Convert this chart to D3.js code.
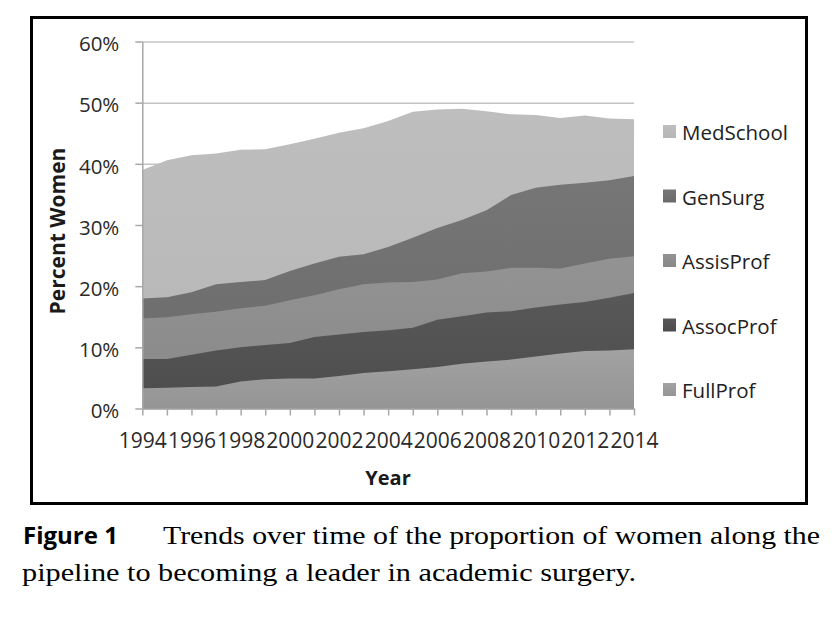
<!DOCTYPE html>
<html lang="en">
<head>
<meta charset="UTF-8">
<title>Women in academic surgery</title>
<style>
    body { margin:0; background:#fff; }
    svg text { font-family: "Open Sans", "DejaVu Sans", sans-serif; }
    svg text.serif { font-family: "Liberation Serif", "Times New Roman", serif; }
</style>
</head>
<body>
<script src="https://d3js.org/d3.v7.min.js"></script>
<script>
    var years = d3.range(1994, 2015);
    var yTicks = [0, 10, 20, 30, 40, 50, 60];

    // percent women
    var medSchool = [39.0, 40.6, 41.4, 41.7, 42.3, 42.4, 43.2, 44.1, 45.1, 45.8, 47.0,
                     48.5, 48.9, 49.0, 48.6, 48.1, 48.0, 47.5, 47.9, 47.4, 47.3];
    var genSurg   = [18.0, 18.2, 19.0, 20.3, 20.7, 21.0, 22.5, 23.7, 24.8, 25.2, 26.4,
                     27.9, 29.5, 30.8, 32.4, 34.9, 36.1, 36.6, 36.9, 37.3, 38.0];
    var assisProf = [14.7, 14.9, 15.4, 15.8, 16.4, 16.8, 17.7, 18.5, 19.5, 20.3, 20.6,
                     20.7, 21.1, 22.1, 22.4, 23.0, 23.0, 22.9, 23.7, 24.5, 24.9];
    var assocProf = [8.1, 8.1, 8.8, 9.5, 10.0, 10.4, 10.7, 11.7, 12.1, 12.5, 12.8,
                     13.2, 14.5, 15.1, 15.7, 15.9, 16.5, 17.0, 17.4, 18.1, 18.9];
    var fullProf  = [3.3, 3.4, 3.5, 3.6, 4.4, 4.8, 4.9, 4.9, 5.3, 5.8, 6.1,
                     6.4, 6.8, 7.3, 7.7, 8.0, 8.5, 9.0, 9.4, 9.5, 9.7];

    var seriesNames = ['MedSchool', 'GenSurg', 'AssisProf', 'AssocProf', 'FullProf'];
    var seriesValues = [medSchool, genSurg, assisProf, assocProf, fullProf];
    var colors = [['#bebebe', '#b6b6b6'], ['#767676', '#6a6a6a'], ['#939393', '#888888'],
                  ['#585858', '#4c4c4c'], ['#a2a2a2', '#959595']];

    var width = 839, height = 623;
    var plotL = 142.3, plotR = 634, plotT = 41.5, plotB = 408.5;

    var svg = d3.select('body').append('svg')
        .attr('width', width)
        .attr('height', height);

    svg.append('rect').attr('width', width).attr('height', height).attr('fill', '#fff');

    var defs = svg.append('defs');
    colors.forEach(function(c, i) {
        var g = defs.append('linearGradient')
            .attr('id', 'grad' + i)
            .attr('x1', 0).attr('y1', 0).attr('x2', 0).attr('y2', 1);
        g.append('stop').attr('offset', '0%').attr('stop-color', c[0]);
        g.append('stop').attr('offset', '100%').attr('stop-color', c[1]);
    });

    // frame
    svg.append('rect')
        .attr('x', 31.5).attr('y', 17.5)
        .attr('width', 775).attr('height', 486)
        .attr('fill', 'none').attr('stroke', '#000').attr('stroke-width', 3);

    var x = d3.scaleLinear().domain([1994, 2014]).range([plotL, plotR]);
    var y = d3.scaleLinear().domain([0, 60]).range([plotB, plotT]);

    // gridlines
    svg.append('g')
        .attr('class', 'grid')
        .attr('transform', 'translate(' + plotL + ',0)')
        .call(d3.axisLeft(y).tickValues(yTicks).tickSize(-(plotR - plotL)).tickFormat(''))
        .call(function(g) {
            g.select('.domain').remove();
            g.selectAll('line').attr('stroke', '#c4c4c4').attr('stroke-width', 1.5);
        });

    var area = d3.area()
        .x(function(d, i) { return x(years[i]); })
        .y0(y(0))
        .y1(function(d) { return y(d); });

    svg.selectAll('path.series')
        .data(seriesValues)
        .enter().append('path')
        .attr('class', 'series')
        .attr('d', area)
        .attr('fill', function(d, i) { return 'url(#grad' + i + ')'; });

    // y axis
    svg.append('g')
        .attr('transform', 'translate(' + plotL + ',0)')
        .call(d3.axisLeft(y).tickValues(yTicks).tickSizeInner(7).tickSizeOuter(0)
              .tickPadding(16).tickFormat(function(d) { return d + '%'; }))
        .call(function(g) {
            g.select('.domain').attr('stroke', '#a8a8a8').attr('stroke-width', 1.5);
            g.selectAll('line').attr('stroke', '#a8a8a8').attr('stroke-width', 1.5);
            g.selectAll('text').attr('font-size', 20.5).attr('fill', '#2a2a2a')
                .attr('dy', '0.45em').style('font-family', '"Open Sans", sans-serif');
        });

    // x axis
    svg.append('g')
        .attr('transform', 'translate(0,' + plotB + ')')
        .call(d3.axisBottom(x).tickValues(years).tickSizeInner(7).tickSizeOuter(0)
              .tickPadding(18).tickFormat(function(d) { return d % 2 === 0 ? d : ''; }))
        .call(function(g) {
            g.select('.domain').attr('stroke', '#a8a8a8').attr('stroke-width', 1.5);
            g.selectAll('line').attr('stroke', '#a8a8a8').attr('stroke-width', 1.5);
            g.selectAll('text').attr('font-size', 21).attr('fill', '#2a2a2a')
                .style('font-family', '"Open Sans", sans-serif');
        });

    // axis titles
    svg.append('text')
        .attr('transform', 'translate(65,231) rotate(-90)')
        .attr('text-anchor', 'middle')
        .attr('font-size', 21).attr('font-weight', 'bold').attr('fill', '#1a1a1a')
        .text('Percent Women');

    svg.append('text')
        .attr('x', 388).attr('y', 485)
        .attr('text-anchor', 'middle')
        .attr('font-size', 20).attr('font-weight', 'bold').attr('fill', '#1a1a1a')
        .text('Year');

    // legend
    var legend = svg.selectAll('g.legend')
        .data(seriesNames)
        .enter().append('g')
        .attr('class', 'legend')
        .attr('transform', function(d, i) { return 'translate(663,' + (133 + i * 64.5) + ')'; });

    legend.append('rect')
        .attr('x', 0).attr('y', -8)
        .attr('width', 13).attr('height', 13)
        .attr('fill', function(d, i) { return 'url(#grad' + i + ')'; });

    legend.append('text')
        .attr('x', 19).attr('dy', '0.36em')
        .attr('font-size', 20.5).attr('fill', '#222')
        .text(function(d) { return d; });

    // caption
    svg.append('text')
        .attr('x', 23).attr('y', 544)
        .attr('font-size', 24).attr('font-weight', 'bold').attr('fill', '#000')
        .text('Figure 1');

    svg.append('text')
        .attr('class', 'serif')
        .attr('x', 163).attr('y', 544)
        .attr('font-size', 25).attr('fill', '#000')
        .attr('textLength', 657).attr('lengthAdjust', 'spacingAndGlyphs')
        .text('Trends over time of the proportion of women along the');

    svg.append('text')
        .attr('class', 'serif')
        .attr('x', 22).attr('y', 581)
        .attr('font-size', 25).attr('fill', '#000')
        .attr('textLength', 614).attr('lengthAdjust', 'spacingAndGlyphs')
        .text('pipeline to becoming a leader in academic surgery.');
</script>
</body>
</html>
